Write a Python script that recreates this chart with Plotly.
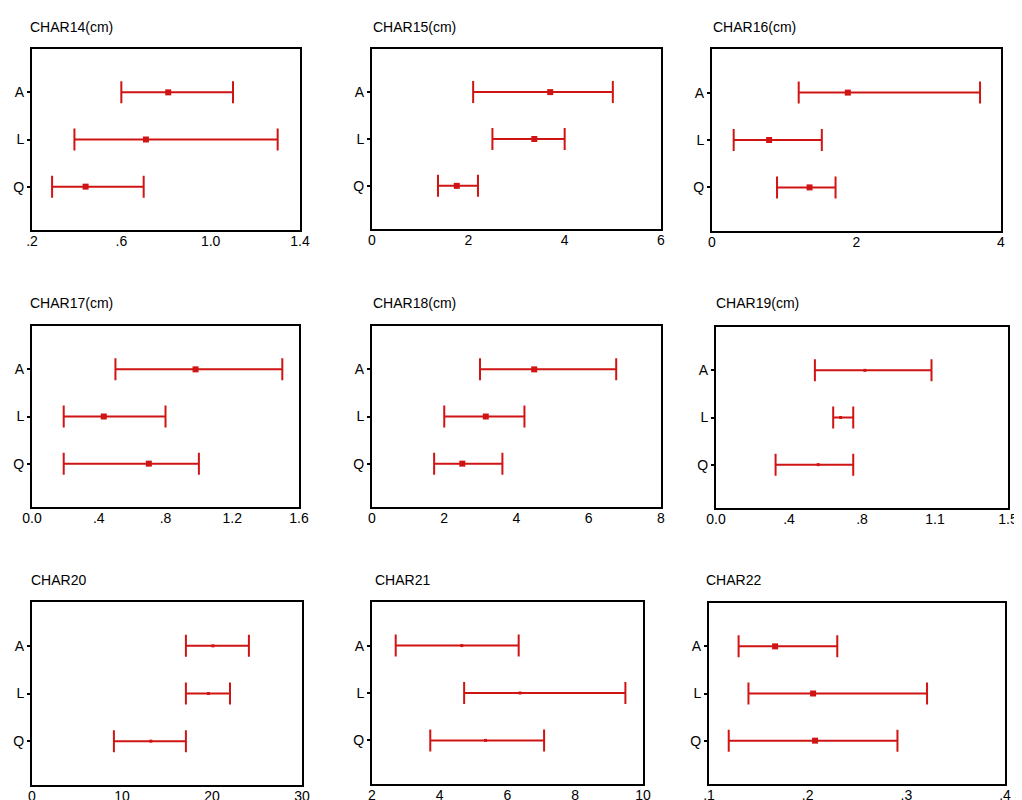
import plotly.graph_objects as go

groups = ["A", "L", "Q"]

titles = ["CHAR14(cm)", "CHAR15(cm)", "CHAR16(cm)",
          "CHAR17(cm)", "CHAR18(cm)", "CHAR19(cm)",
          "CHAR20", "CHAR21", "CHAR22"]

# mean, lower and upper limits for groups A, L, Q
mean_14 = [0.81, 0.71, 0.44]
low_14 = [0.60, 0.39, 0.29]
high_14 = [1.10, 1.30, 0.70]

mean_15 = [3.70, 3.37, 1.76]
low_15 = [2.10, 2.50, 1.37]
high_15 = [5.00, 4.00, 2.20]

mean_16 = [1.88, 0.79, 1.35]
low_16 = [1.20, 0.30, 0.90]
high_16 = [3.71, 1.52, 1.71]

mean_17 = [0.98, 0.43, 0.70]
low_17 = [0.50, 0.19, 0.19]
high_17 = [1.50, 0.80, 1.00]

mean_18 = [4.49, 3.15, 2.50]
low_18 = [2.99, 2.00, 1.72]
high_18 = [6.76, 4.22, 3.61]

mean_19 = [0.765, 0.64, 0.525]
low_19 = [0.508, 0.602, 0.306]
high_19 = [1.107, 0.705, 0.705]

mean_20 = [20.1, 19.6, 13.2]
low_20 = [17.1, 17.1, 9.1]
high_20 = [24.1, 22.0, 17.1]

mean_21 = [4.65, 6.37, 5.35]
low_21 = [2.70, 4.72, 3.72]
high_21 = [6.33, 9.48, 7.08]

mean_22 = [0.167, 0.2055, 0.2075]
low_22 = [0.130, 0.140, 0.120]
high_22 = [0.230, 0.321, 0.291]

x_ranges = [[0.2, 1.4], [0, 6], [0, 4], [0, 1.6], [0, 8], [0, 1.5], [0, 30], [2, 10], [0.1, 0.4]]
x_tickvals = [[0.2, 0.6, 1.0, 1.4], [0, 2, 4, 6], [0, 2, 4], [0, 0.4, 0.8, 1.2, 1.6],
              [0, 2, 4, 6, 8], [0, 0.375, 0.75, 1.125, 1.5], [0, 10, 20, 30],
              [2, 4, 6, 8, 10], [0.1, 0.2, 0.3, 0.4]]
x_ticktext = [[".2", ".6", "1.0", "1.4"], ["0", "2", "4", "6"], ["0", "2", "4"],
              ["0.0", ".4", ".8", "1.2", "1.6"], ["0", "2", "4", "6", "8"],
              ["0.0", ".4", ".8", "1.1", "1.5"], ["0", "10", "20", "30"],
              ["2", "4", "6", "8", "10"], [".1", ".2", ".3", ".4"]]

means = [mean_14, mean_15, mean_16, mean_17, mean_18, mean_19, mean_20, mean_21, mean_22]
lows = [low_14, low_15, low_16, low_17, low_18, low_19, low_20, low_21, low_22]
highs = [high_14, high_15, high_16, high_17, high_18, high_19, high_20, high_21, high_22]

# page offset from the default body margin of the html page
OFF = 8
W, H = 1022 - OFF, 800 - OFF

# layout (screen pixels): box left, right, top, bottom
boxes = [(32, 300, 49, 230), (372, 661, 49, 229), (712, 1001, 49, 231),
         (32, 299, 326, 507), (372, 661, 326, 507), (716, 1008, 327, 508),
         (32, 302, 602, 785), (372, 643, 602, 784), (709, 1005, 603, 784)]
title_pos = [(28, 27), (371, 27), (711, 27),
             (28, 303), (371, 303), (714, 303),
             (29, 580), (373, 580), (704, 580)]
marker_sizes = [6, 6, 6, 6, 6, 3, 3, 3, 6]


def px(v):
    return (v - OFF) / W


def py(v):
    return 1 - (v - OFF) / H


RED = "#d01414"
FONT = "Liberation Sans, Arial"
fig = go.Figure()
layout = {}
annotations = []
for i in range(9):
    ax = "" if i == 0 else str(i + 1)
    m, lo, hi = means[i], lows[i], highs[i]
    fig.add_trace(go.Scatter(
        x=m, y=groups, mode="markers",
        marker=dict(symbol="square", size=marker_sizes[i], color=RED),
        error_x=dict(type="data", symmetric=False,
                     array=[h - v for h, v in zip(hi, m)],
                     arrayminus=[v - l for v, l in zip(m, lo)],
                     color=RED, thickness=2, width=11),
        xaxis="x" + ax, yaxis="y" + ax, showlegend=False, hoverinfo="skip",
        cliponaxis=False))
    l, r, t, b = boxes[i]
    layout["xaxis" + ax] = dict(
        domain=[px(l), px(r)], anchor="y" + ax, range=x_ranges[i],
        tickvals=x_tickvals[i], ticktext=x_ticktext[i], automargin=False,
        showline=True, linecolor="black", linewidth=2, mirror=True,
        showgrid=False, zeroline=False, ticks="", ticklen=0,
        ticklabelstandoff=-3,
        tickfont=dict(family=FONT, size=14, color="black"))
    layout["yaxis" + ax] = dict(
        domain=[py(b), py(t)], anchor="x" + ax, automargin=False,
        type="category", categoryorder="array", categoryarray=groups,
        range=[2.92, -0.92],
        showline=True, linecolor="black", linewidth=2, mirror=True,
        showgrid=False, zeroline=False, ticks="outside", ticklen=3,
        tickwidth=2, tickcolor="black",
        tickfont=dict(family=FONT, size=14, color="black"))
    tx, ty = title_pos[i]
    annotations.append(dict(
        text=titles[i], x=px(tx), y=py(ty), xref="paper", yref="paper",
        xanchor="left", yanchor="middle", showarrow=False,
        font=dict(family=FONT, size=14, color="black")))

fig.update_layout(**layout)
fig.update_layout(width=W, height=H,
                  margin=dict(l=0, r=0, t=0, b=0, pad=0, autoexpand=False),
                  paper_bgcolor="white", plot_bgcolor="white",
                  annotations=annotations)
fig.write_html("out.html")
